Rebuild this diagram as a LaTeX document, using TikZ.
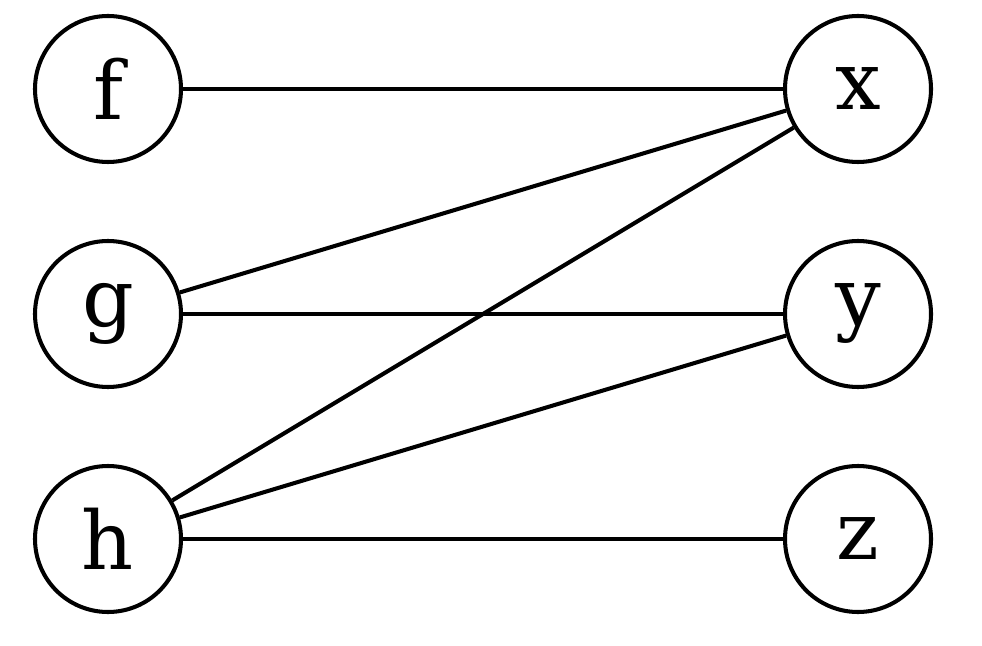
\documentclass[tikz,border=0pt]{standalone}
\usepackage{fontspec}
\setmainfont{DejaVu Serif}
\usepackage{tikz}
\begin{document}
\begin{tikzpicture}[
		vert/.style={
			circle, draw, line width=2.3pt, minimum size=2.92cm, inner sep=0pt,
			font=\fontsize{46}{50}\selectfont
			},
		edge/.style={
			line width=2.3pt
			}
		]
		\useasboundingbox (0,0) rectangle (19.64,12.9);

		\node[vert] (f) at (2.16,11.12) {f};
		\node[vert] (g) at (2.16,6.62) {g};
		\node[vert] (h) at (2.16,2.12) {h};
		\node[vert] (x) at (17.16,11.12) {x};
		\node[vert] (y) at (17.16,6.62) {y};
		\node[vert] (z) at (17.16,2.12) {z};

		\draw[edge] (f) -- (x);
		\draw[edge] (g) -- (x);
		\draw[edge] (g) -- (y);
		\draw[edge] (h) -- (x);
		\draw[edge] (h) -- (y);
		\draw[edge] (h) -- (z);

	\end{tikzpicture}
\end{document}
